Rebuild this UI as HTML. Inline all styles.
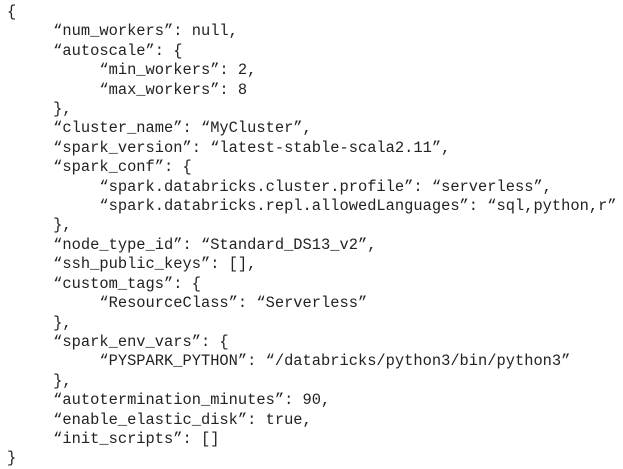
<!DOCTYPE html>
<html><head><meta charset="utf-8"><style>
html,body{margin:0;padding:0;background:#fff;width:623px;height:451px;overflow:hidden}
pre{position:absolute;left:7px;top:3px;margin:0;font-family:"Liberation Mono","DejaVu Sans Mono",monospace;font-size:15.4px;line-height:19.4px;color:#222;letter-spacing:0}
</style></head><body>
<pre>{
     “num_workers”: null,
     “autoscale”: {
          “min_workers”: 2,
          “max_workers”: 8
     },
     “cluster_name”: “MyCluster”,
     “spark_version”: “latest-stable-scala2.11”,
     “spark_conf”: {
          “spark.databricks.cluster.profile”: “serverless”,
          “spark.databricks.repl.allowedLanguages”: “sql,python,r”
     },
     “node_type_id”: “Standard_DS13_v2”,
     “ssh_public_keys”: [],
     “custom_tags”: {
          “ResourceClass”: “Serverless”
     },
     “spark_env_vars”: {
          “PYSPARK_PYTHON”: “/databricks/python3/bin/python3”
     },
     “autotermination_minutes”: 90,
     “enable_elastic_disk”: true,
     “init_scripts”: []
}</pre>
</body></html>
